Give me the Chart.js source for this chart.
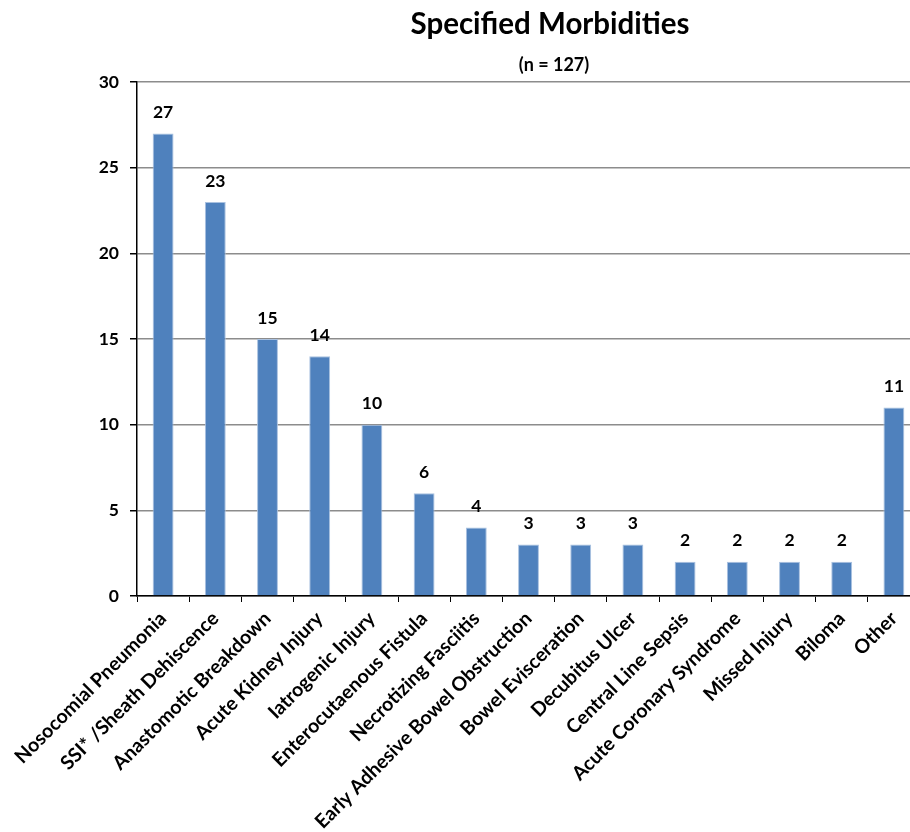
<!DOCTYPE html>
<html>
<head>
<meta charset="utf-8">
<script src="https://cdn.jsdelivr.net/npm/chart.js@4"></script>
<style>
  html, body { margin: 0; padding: 0; overflow: hidden; background: #ffffff; }
  #wrap { width: 1100px; height: 832px; }
  canvas { display: block; }
</style>
</head>
<body>
<div id="wrap"><canvas id="chart" width="1100" height="832" style="width:1100px;height:832px"></canvas></div>
<script>
// Morbidity categories and counts
const categories = [
  "Nosocomial Pneumonia",
  "SSI* /Sheath Dehiscence",
  "Anastomotic Breakdown",
  "Acute Kidney Injury",
  "Iatrogenic Injury",
  "Enterocutaenous Fistula",
  "Necrotizing Fasciitis",
  "Early Adhesive Bowel Obstruction",
  "Bowel Evisceration",
  "Decubitus Ulcer",
  "Central Line Sepsis",
  "Acute Coronary Syndrome",
  "Missed Injury",
  "Biloma",
  "Other"
];
const counts = [27, 23, 15, 14, 10, 6, 4, 3, 3, 3, 2, 2, 2, 2, 11];
const yTicks = [0, 5, 10, 15, 20, 25, 30];

const titleText = "Specified Morbidities";
const subtitleText = "(n = 127)";

const FONT = "Lato, 'Liberation Sans', sans-serif";

// Heading and sample size, centred at x = 550 above the plot
const heading = {
  id: 'heading',
  afterDraw(chart) {
    const ctx = chart.ctx;
    ctx.save();
    ctx.fillStyle = '#000000';
    ctx.textAlign = 'center';
    ctx.textBaseline = 'alphabetic';
    ctx.font = "bold 29.5px " + FONT;
    ctx.fillText(titleText, 550, 34);
    ctx.font = "bold 18px " + FONT;
    ctx.fillText(subtitleText, 554, 71);
    ctx.restore();
  }
};

// Writes each bar's count above it
const valueLabels = {
  id: 'valueLabels',
  afterDatasetsDraw(chart) {
    const ctx = chart.ctx;
    const meta = chart.getDatasetMeta(0);
    ctx.save();
    ctx.font = "bold 17.5px " + FONT;
    ctx.fillStyle = "#000000";
    ctx.textAlign = "center";
    ctx.textBaseline = "middle";
    meta.data.forEach((bar, i) => {
      ctx.fillText(String(counts[i]), bar.x, bar.y - 21);
    });
    ctx.restore();
  }
};

new Chart(document.getElementById('chart'), {
  type: 'bar',
  data: {
    labels: categories,
    datasets: [{
      data: counts,
      backgroundColor: '#4F81BD',
      borderColor: '#A9C1E0',
      borderWidth: 1,
      borderSkipped: 'bottom',
      barPercentage: 0.4,
      categoryPercentage: 1.0
    }]
  },
  options: {
    responsive: false,
    devicePixelRatio: 1,
    animation: false,
    layout: { padding: { left: 0, right: 180, top: 82, bottom: 0 } },
    plugins: {
      legend: { display: false },
      tooltip: { enabled: false },
      title: { display: false },
      subtitle: { display: false }
    },
    scales: {
      x: {
        offset: true,
        grid: {
          display: true,
          offset: true,
          drawOnChartArea: false,
          drawTicks: true,
          tickLength: 6,
          tickColor: '#000000'
        },
        border: { display: true, color: '#000000', width: 1.5 },
        ticks: {
          autoSkip: false,
          maxRotation: 45,
          minRotation: 45,
          padding: 5,
          color: '#000000',
          font: { family: FONT, size: 19.5, weight: 'bold' }
        },
        afterFit(scale) { scale.height = 236; }
      },
      y: {
        min: 0,
        max: 30,
        afterBuildTicks(scale) { scale.ticks = yTicks.map(v => ({ value: v })); },
        grid: {
          color: '#8C8C8C',
          lineWidth: 1.5,
          drawTicks: true,
          tickLength: 7,
          tickColor: '#000000'
        },
        border: { display: true, color: '#000000', width: 1.5 },
        ticks: {
          padding: 11,
          color: '#000000',
          font: { family: FONT, size: 17.5, weight: 'bold' }
        },
        afterFit(scale) { scale.width = 137; }
      }
    }
  },
  plugins: [valueLabels, heading]
});
</script>
</body>
</html>
